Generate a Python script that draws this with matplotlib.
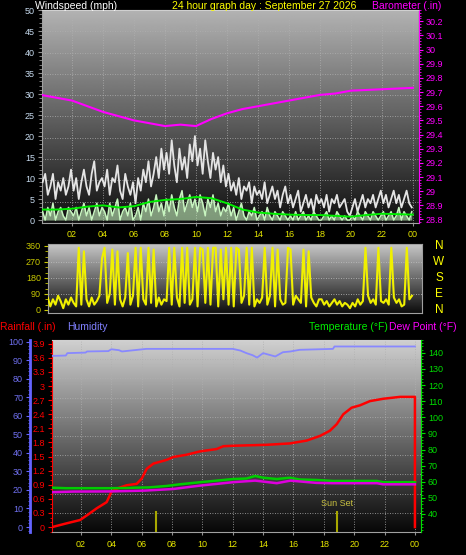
import matplotlib
matplotlib.use('Agg')
import matplotlib.pyplot as plt
import numpy as np
from matplotlib.ticker import MultipleLocator

plt.rcParams['font.family'] = ['Liberation Sans', 'DejaVu Sans']

# -------------------- data --------------------
hour_ticks = [2, 4, 6, 8, 10, 12, 14, 16, 18, 20, 22, 24]
hour_labels = ['02', '04', '06', '08', '10', '12', '14', '16', '18', '20', '22', '00']

# wind, 10 minute samples
gust = [9, 11, 6, 8, 11, 5, 9, 7, 10, 6, 8, 12,
        7, 10, 5, 9, 12, 8, 6, 11, 14, 7, 9, 10,
        8, 12, 6, 10, 9, 13, 7, 5, 11, 8, 6, 9,
        4, 10, 7, 12, 9, 14, 8, 11, 15, 10, 17, 12,
        16, 11, 19, 13, 9, 17, 12, 15, 10, 18, 14, 20,
        13, 17, 11, 19, 14, 10, 16, 12, 15, 9, 13, 8,
        11, 7, 9, 6, 10, 5, 8, 7, 9, 4, 8, 6,
        7, 5, 9, 4, 6, 8, 5, 7, 3, 6, 8, 4,
        6, 3, 5, 7, 2, 4, 6, 3, 5, 2, 6, 4,
        5, 3, 6, 2, 5, 4, 6, 3, 4, 5, 2, 1,
        3, 5, 2, 4, 6, 3, 5, 4, 6, 3, 5, 7,
        4, 6, 3, 5, 7, 4, 6, 3, 5, 7, 4, 3]
speed = [2, 0, 3, 1, 4, 0, 2, 3, 1, 0, 3, 2,
         1, 3, 0, 2, 4, 1, 3, 0, 2, 4, 1, 3,
         2, 0, 4, 1, 3, 5, 0, 2, 3, 1, 4, 0,
         1, 3, 0, 4, 2, 5, 1, 3, 6, 2, 4, 1,
         5, 2, 6, 3, 1, 5, 7, 2, 4, 6, 3, 5,
         2, 6, 4, 1, 5, 3, 6, 2, 4, 1, 3, 2,
         4, 1, 3, 0, 2, 4, 1, 0, 2, 1, 3, 0,
         1, 2, 0, 3, 1, 0, 2, 1, 0, 2, 1, 0,
         1, 0, 2, 0, 1, 2, 0, 1, 0, 2, 1, 0,
         0, 1, 2, 0, 1, 0, 2, 1, 0, 1, 0, 0,
         1, 0, 2, 1, 0, 2, 1, 0, 2, 1, 0, 1,
         2, 0, 1, 2, 0, 1, 3, 0, 2, 1, 0, 2]
direction = [100, 40, 70, 20, 60, 30, 80, 50, 10, 60, 30, 70,
             40, 20, 350, 30, 330, 60, 20, 70, 30, 50, 80, 290,
             350, 40, 90, 340, 30, 330, 60, 20, 70, 320, 30, 80,
             350, 20, 350, 60, 30, 350, 40, 340, 20, 70, 30, 60,
             50, 350, 30, 350, 70, 20, 350, 40, 350, 30, 60, 350,
             20, 350, 340, 40, 350, 30, 350, 350, 20, 340, 60, 350,
             30, 350, 20, 350, 340, 40, 80, 350, 30, 350, 20, 60,
             40, 70, 350, 30, 80, 350, 20, 340, 60, 30, 40, 350,
             340, 30, 80, 60, 40, 340, 20, 330, 70, 40, 20, 60,
             60, 30, 50, 20, 40, 60, 30, 50, 20, 40, 30, 10,
             40, 20, 60, 30, 50, 350, 80, 40, 60, 30, 350, 50,
             40, 60, 30, 350, 70, 40, 60, 20, 30, 350, 60, 80]

# hourly
avg_wind = [2.5, 2.5, 2.7, 3.2, 3.5, 3.0, 3.3, 4.3, 4.8, 5.0, 5.5, 5.2, 4.0,
            2.5, 1.8, 1.5, 1.3, 1.2, 1.2, 1.0, 0.8, 1.2, 1.5, 1.4, 1.3]
baro = [29.68, 29.66, 29.64, 29.60, 29.56, 29.53, 29.50, 29.48, 29.46, 29.47,
        29.46, 29.51, 29.55, 29.58, 29.60, 29.62, 29.64, 29.66, 29.68, 29.69,
        29.71, 29.715, 29.72, 29.725, 29.73]

rain_hours = [0.1, 1.06, 1.94, 2.48, 3.04, 3.69, 4.02, 4.46, 5.01, 5.67, 6.0,
              6.33, 6.77, 7.65, 8.08, 8.97, 9.84, 10.94, 11.38, 12.04, 14.23,
              15.77, 16.87, 17.75, 18.4, 18.85, 19.28, 19.83, 20.38, 21.04,
              21.92, 23.02, 24.0, 24.0]
rain = [0, 0.08, 0.15, 0.27, 0.40, 0.53, 0.76, 0.83, 0.89, 0.92, 1.03, 1.24,
        1.35, 1.43, 1.49, 1.54, 1.61, 1.66, 1.72, 1.73, 1.75, 1.78, 1.84, 1.94,
        2.05, 2.19, 2.40, 2.54, 2.59, 2.68, 2.73, 2.77, 2.77, 0]

hum_hours = [0.1, 1.0, 1.1, 2.3, 2.4, 3.8, 4.0, 4.5, 4.7, 6.3, 12.0, 12.5,
             12.9, 13.3, 13.6, 14.0, 14.4, 14.8, 15.3, 15.8, 16.4, 18.6, 18.7, 24.0]
humidity = [92.4, 92.6, 93.9, 94.2, 94.8, 95.0, 96.0, 95.5, 94.8, 96.2, 96.2, 95.3,
            93.9, 92.8, 91.5, 93.9, 93.0, 92.1, 94.4, 94.8, 95.7, 96.2, 97.5, 97.5]

temp_hours = [0.1, 1, 2, 3, 4, 5, 5.5, 6.5, 7.65, 8.5, 9.84, 10.94, 12.04, 12.9,
              13.47, 14.0, 14.9, 15.77, 16.4, 17.5, 18.6, 21.5, 21.9, 24.0]
temperature = [56.3, 56.0, 56.0, 56.0, 56.0, 56.1, 56.3, 56.5, 57.4, 58.4, 59.7,
               60.7, 61.7, 62.0, 63.6, 62.5, 61.7, 62.5, 61.4, 61.1, 60.5, 60.5,
               59.7, 59.7]
dew_hours = [0.1, 1.5, 4.0, 6.2, 8.08, 9.84, 12.0, 13.47, 14.9, 15.8, 17.5,
             18.6, 21.5, 21.9, 24.0]
dewpoint = [53.5, 53.9, 54.0, 54.5, 55.5, 57.6, 59.7, 60.7, 59.1, 60.7, 59.3,
            59.1, 59.1, 58.4, 58.4]

sunrise, sunset = 6.92, 18.85

t10 = np.arange(len(gust)) / 6 + 0.1
t60 = np.arange(len(avg_wind))

# -------------------- figure --------------------
W, H = 466, 555
fig = plt.figure(figsize=(W / 100, H / 100), dpi=100, facecolor='black')


def box(l, t, r, b):
    return [l / W, 1 - b / H, (r - l) / W, (b - t) / H]


def shade(ax, top, bottom):
    grad = np.linspace(bottom, top, 256).reshape(-1, 1)
    ax.imshow(grad, cmap='gray', vmin=0, vmax=1, aspect='auto', origin='lower',
              extent=(0, 1, 0, 1), transform=ax.transAxes, zorder=0)


def grid(ax, ylim, nh=10):
    for h in hour_ticks:
        ax.axvline(h, color='#b0b0b0', lw=0.6, ls=(0, (1, 2)), zorder=1)
    for k in range(1, nh):
        y = ylim[0] + (ylim[1] - ylim[0]) * k / nh
        ax.axhline(y, color='#b0b0b0', lw=0.6, ls=(0, (1, 2)), zorder=1)


small = 6.5
head = 7.5

# ---------- top panel: wind + barometer ----------
ax1 = fig.add_axes(box(42, 10, 419, 223))
xl1, yl1 = (0.06, 24.4), (-0.7, 50)
shade(ax1, 0.70, 0.06)
grid(ax1, yl1)
ax1.plot(t10, gust, color='#e4e4e4', lw=1.3, zorder=3)
ax1.fill_between(t10, 0, speed, color='#c8f5c0', alpha=0.6, lw=0, zorder=4)
ax1.plot(t10, speed, color='#c8f5c0', lw=1.1, zorder=4)
ax1.plot(t60, avg_wind, color='#00ee00', lw=1.4, zorder=5)
ax1.set_xlim(xl1)
ax1.set_ylim(yl1)
ax1.set_yticks(np.arange(0, 51, 5))
ax1.yaxis.set_minor_locator(MultipleLocator(1))
ax1.tick_params(axis='y', colors='#909090', labelcolor='#c8dcf0', labelsize=small,
                length=3, pad=2)
ax1.tick_params(axis='y', which='minor', colors='#909090', length=2)
ax1.set_xticks(hour_ticks)
ax1.set_xticklabels(hour_labels)
ax1.tick_params(axis='x', colors='#909090', labelcolor='#e6e600', labelsize=small,
                length=2, pad=3)
for s in ['left', 'bottom']:
    ax1.spines[s].set_color('#a0a0a0')
ax1.spines['top'].set_color('#d0d0d0')

ax1b = ax1.twinx()
ax1b.plot(t60, baro, color='#ff00ff', lw=1.5, zorder=6)
ax1b.set_ylim(28.775, 30.28)
bt = np.round(np.arange(28.8, 30.25, 0.1), 1)
ax1b.set_yticks(bt)
ax1b.set_yticklabels([f'{v:g}' for v in bt])
ax1b.yaxis.set_minor_locator(MultipleLocator(0.02))
ax1b.tick_params(axis='y', colors='#ff00ff', labelsize=small, length=3, pad=2)
ax1b.tick_params(axis='y', which='minor', colors='#ff00ff', length=1.5)
ax1b.spines['right'].set_color('#ff00ff')
ax1b.spines['right'].set_linestyle((0, (1, 1)))
for s in ['left', 'bottom', 'top']:
    ax1b.spines[s].set_visible(False)

fig.text(35 / W, 1 - 6 / H, 'Windspeed (mph)', color='white', fontsize=head, va='center')
fig.text(172 / W, 1 - 6 / H, '24 hour graph day : September 27 2026', color='#ffff00',
         fontsize=head, va='center')
fig.text(372 / W, 1 - 6 / H, 'Barometer (.in)', color='#ff00ff', fontsize=head, va='center')

# ---------- middle panel: wind direction ----------
ax2 = fig.add_axes(box(48, 244, 422, 313))
xl2, yl2 = (0.45, 24.58), (-17, 371)
shade(ax2, 0.78, 0.05)
for y in [90, 180, 270]:
    ax2.axhline(y, color='#c0c0c0', lw=0.6, ls=(0, (1, 2)), zorder=1)
ax2.plot(t10, direction, color='#f0f000', lw=1.5, zorder=3)
ax2.set_xlim(xl2)
ax2.set_ylim(yl2)
ax2.set_yticks([0, 90, 180, 270, 360])
ax2.yaxis.set_minor_locator(MultipleLocator(30))
ax2.tick_params(axis='y', colors='#c8c800', labelsize=small, length=3, pad=2)
ax2.tick_params(axis='y', which='minor', colors='#c8c800', length=2)
ax2.set_xticks([])
for s in ax2.spines.values():
    s.set_color('#a0a0a0')
for lab, v in zip(['N', 'W', 'S', 'E', 'N'], [360, 270, 180, 90, 0]):
    ax2.text((439 - 48) / 374, v, lab, color='#ffff00', fontsize=8.5,
             transform=ax2.get_yaxis_transform(), ha='center', va='center')

# ---------- bottom panel: rain, humidity, temperature ----------
ax3 = fig.add_axes(box(52, 340, 421, 532))
xl3, yl3 = (0.09, 24.4), (-0.105, 3.98)
shade(ax3, 0.82, 0.03)
grid(ax3, yl3)
ax3.plot(rain_hours, rain, color='#ff0000', lw=1.8, zorder=5)
ax3.set_xlim(xl3)
ax3.set_ylim(yl3)
rt = np.round(np.arange(0, 3.95, 0.3), 1)
ax3.set_yticks(rt)
ax3.set_yticklabels([f'{v:g}' for v in rt])
ax3.yaxis.set_minor_locator(MultipleLocator(0.1))
ax3.tick_params(axis='y', colors='#ff0000', labelsize=small, length=3, pad=2)
ax3.tick_params(axis='y', which='minor', colors='#ff0000', length=1.5)
ax3.set_xticks(hour_ticks)
ax3.set_xticklabels(hour_labels)
ax3.tick_params(axis='x', colors='#909090', labelcolor='#e6e600', labelsize=small,
                length=2, pad=4)
ax3.spines['left'].set_color('#ff0000')
ax3.spines['left'].set_linestyle((0, (2, 1)))
ax3.spines['bottom'].set_color('#a0a0a0')
ax3.spines['top'].set_color('#d0d0d0')
ax3.spines['right'].set_visible(False)

ax3.axvline(sunrise, ymin=0, ymax=0.106, color='#a8a800', lw=1.5, zorder=4)
ax3.axvline(sunset, ymin=0, ymax=0.106, color='#a8a800', lw=1.5, zorder=4)
ax3.text(sunset, 0.127, 'Sun Set', color='#c8c040', fontsize=small,
         transform=ax3.get_xaxis_transform(), ha='center', va='bottom')

ax3h = ax3.twinx()
ax3h.plot(hum_hours, humidity, color='#8888ff', lw=1.3, zorder=5)
ax3h.set_ylim(-2.7, 101)
ax3h.yaxis.tick_left()
ax3h.spines['left'].set_position(('axes', (30 - 52) / 369))
ax3h.spines['left'].set_visible(True)
ax3h.spines['left'].set_color('#6464ff')
ax3h.spines['left'].set_linewidth(2)
ax3h.set_yticks(np.arange(0, 101, 10))
ax3h.yaxis.set_minor_locator(MultipleLocator(2))
ax3h.tick_params(axis='y', colors='#6464ff', labelcolor='#7070f0', labelsize=small,
                 length=3, pad=2)
ax3h.tick_params(axis='y', which='minor', colors='#6464ff', length=1.5)
for s in ['right', 'top', 'bottom']:
    ax3h.spines[s].set_visible(False)

ax3t = ax3.twinx()
ax3t.plot(temp_hours, temperature, color='#00cc00', lw=1.8, zorder=6)
ax3t.plot(dew_hours, dewpoint, color='#dd00dd', lw=1.8, zorder=6)
ax3t.set_ylim(28.8, 148)
ax3t.set_yticks(np.arange(40, 141, 10))
ax3t.yaxis.set_minor_locator(MultipleLocator(2))
ax3t.tick_params(axis='y', colors='#00dd00', labelsize=small, length=3, pad=2)
ax3t.tick_params(axis='y', which='minor', colors='#00dd00', length=1.5)
ax3t.spines['right'].set_color('#00dd00')
ax3t.spines['right'].set_linestyle((0, (1, 1)))
for s in ['left', 'top', 'bottom']:
    ax3t.spines[s].set_visible(False)

ly = 1 - 327 / H
fig.text(0 / W, ly, 'Rainfall (.in)', color='#ff0000', fontsize=head, va='center')
fig.text(67 / W, ly, 'Humidity', color='#8080ff', fontsize=head, va='center')
fig.text(388 / W, ly, 'Temperature (°F)', color='#00ee00', fontsize=head, va='center',
         ha='right')
fig.text(389 / W, ly, 'Dew Point (°F)', color='#ff00ff', fontsize=head, va='center')

fig.savefig('out.png', dpi=100, facecolor='black')
